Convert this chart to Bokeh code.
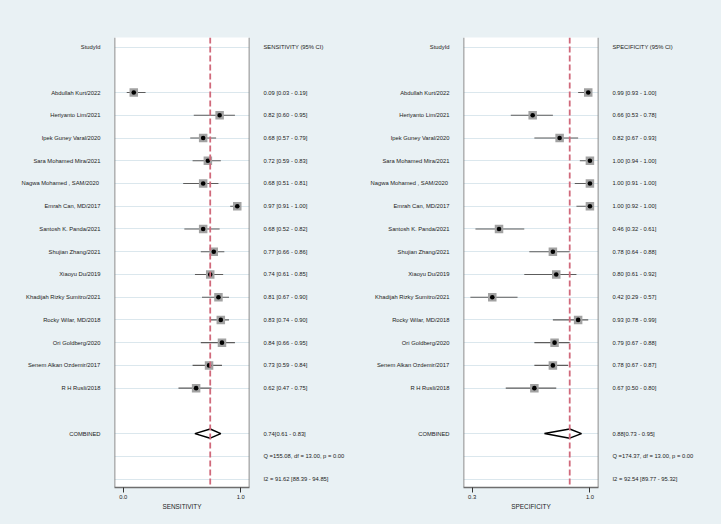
from bokeh.plotting import figure
from bokeh.layouts import row
from bokeh.models import (ColumnDataSource, Span, Range1d,
                          FixedTicker, Grid, NumeralTickFormatter)
from bokeh.core.properties import value
from bokeh.embed import file_html
from bokeh.resources import INLINE

# ---------------- data ----------------
studies = ["Abdullah Kurt/2022", "Heriyanto Lim/2021", "Ipek Guney Varal/2020",
           "Sara Mohamed Mira/2021", "Nagwa Mohamed ,  SAM/2020", "Emrah Can, MD/2017",
           "Santosh K. Panda/2021", "Shujian Zhang/2021", "Xiaoyu Du/2019",
           "Khadijah Rizky Sumitro/2021", "Rocky Wilar, MD/2018", "Ori Goldberg/2020",
           "Senem Alkan Ozdemir/2017", "R H Rusli/2018"]

sens = [0.09, 0.82, 0.68, 0.72, 0.68, 0.97, 0.68, 0.77, 0.74, 0.81, 0.83, 0.84, 0.73, 0.62]
sens_lo = [0.03, 0.60, 0.57, 0.59, 0.51, 0.91, 0.52, 0.66, 0.61, 0.67, 0.74, 0.66, 0.59, 0.47]
sens_hi = [0.19, 0.95, 0.79, 0.83, 0.81, 1.00, 0.82, 0.86, 0.85, 0.90, 0.90, 0.95, 0.84, 0.75]
sens_combined = [0.74, 0.61, 0.83]
sens_q = "Q =155.08, df = 13.00, p =  0.00"
sens_i2 = "I2 = 91.62 [88.39 - 94.85]"

spec = [0.99, 0.66, 0.82, 1.00, 1.00, 1.00, 0.46, 0.78, 0.80, 0.42, 0.93, 0.79, 0.78, 0.67]
spec_lo = [0.93, 0.53, 0.67, 0.94, 0.91, 0.92, 0.32, 0.64, 0.61, 0.29, 0.78, 0.67, 0.67, 0.50]
spec_hi = [1.00, 0.78, 0.93, 1.00, 1.00, 1.00, 0.61, 0.88, 0.92, 0.57, 0.99, 0.88, 0.87, 0.80]
spec_combined = [0.88, 0.73, 0.95]
spec_q = "Q =174.37, df = 13.00, p =  0.00"
spec_i2 = "I2 = 92.54 [89.77 - 95.32]"

sens_ticks = [0.0, 1.0]
spec_ticks = [0.3, 1.0]

# ---------------- style ----------------
BG = "#e9f1f4"
FONT = "Liberation Sans"
TXT = "#222222"
FS = "5.8px"
H = 520
TOP, BOT = 37, 33
PAD = 2


def text_fig(width, y_range, rows, texts, align):
    p = figure(width=width, height=H, output_backend="svg", toolbar_location=None,
               x_range=Range1d(0, 1), y_range=y_range,
               x_axis_location=None, y_axis_location=None,
               min_border_left=0, min_border_right=0,
               min_border_top=TOP, min_border_bottom=BOT,
               background_fill_color=BG, border_fill_color=BG, outline_line_color=None)
    p.grid.visible = False
    src = ColumnDataSource(dict(y=rows, t=texts, x=[1 if align == "right" else 0] * len(rows)))
    p.text(x="x", y="y", text="t", source=src,
           x_offset=-(14 - PAD) if align == "right" else (14 - PAD),
           text_align=align, text_baseline="middle",
           text_font=value(FONT), text_font_size=value(FS), text_color=TXT)
    return p


def make_panel(vals, lo, hi, comb, q, i2, header, axis_label, xr, ticks,
               left_w, right_w):
    n = len(vals)
    rows = list(range(1, n + 1))
    comb_row = n + 2
    q_row, i2_row = n + 3, n + 4
    head_row = -1
    yr = Range1d(i2_row + 0.37, head_row - 0.42)

    p = figure(width=135 + 2 * PAD, height=H, output_backend="svg", toolbar_location=None,
               x_range=xr, y_range=yr, y_axis_location=None,
               min_border_left=PAD, min_border_right=PAD,
               min_border_top=TOP, min_border_bottom=BOT,
               background_fill_color="white", border_fill_color=BG,
               outline_line_color=None)
    p.grid.visible = False
    p.add_layout(Grid(dimension=1,
                      ticker=FixedTicker(ticks=[head_row] + rows + [comb_row, q_row, i2_row]),
                      grid_line_color="#dbe7ed", grid_line_width=1))

    for loc in (xr.start, xr.end):
        p.add_layout(Span(location=loc, dimension="height", line_color="#6e6e6e", line_width=1.6))

    src = ColumnDataSource(dict(y=rows, v=vals, lo=lo, hi=hi))
    p.segment(x0="lo", y0="y", x1="hi", y1="y", source=src, line_color="#5c5c5c", line_width=1.1)
    p.scatter(x="v", y="y", source=src, marker="square", size=8.5, fill_color="#a2a2a2", line_color=None)
    p.scatter(x="v", y="y", source=src, marker="circle", size=4.6, fill_color="black", line_color=None)

    est, clo, chi = comb
    p.patches(xs=[[clo, est, chi, est]],
              ys=[[comb_row, comb_row - 0.2, comb_row, comb_row + 0.2]],
              fill_color="white", line_color="black", line_width=1.5)
    p.add_layout(Span(location=est, dimension="height", line_color="#d0697b",
                      line_width=1.8, line_dash="6 3"))

    ax = p.xaxis[0]
    ax.ticker = FixedTicker(ticks=ticks)
    ax.formatter = NumeralTickFormatter(format="0.0")
    ax.axis_label = axis_label
    ax.axis_line_color = "#6e6e6e"
    ax.axis_line_width = 1.6
    ax.major_tick_line_color = "#333333"
    ax.major_tick_in = 0
    ax.major_tick_out = 5
    ax.minor_tick_line_color = None
    ax.major_label_standoff = 2
    ax.major_label_text_font = FONT
    ax.major_label_text_font_size = FS
    ax.major_label_text_color = TXT
    ax.axis_label_standoff = 1
    ax.axis_label_text_font = FONT
    ax.axis_label_text_font_size = "6.4px"
    ax.axis_label_text_font_style = "normal"
    ax.axis_label_text_color = TXT

    left = text_fig(left_w - PAD, yr, [head_row] + rows + [comb_row],
                    ["StudyId"] + studies + ["COMBINED"], "right")
    ci = [f"{a:.2f} [{b:.2f} - {c:.2f}]" for a, b, c in zip(vals, lo, hi)]
    right = text_fig(right_w - PAD, yr, [head_row] + rows + [comb_row, q_row, i2_row],
                     [header] + ci + [f"{est:.2f}[{clo:.2f} - {chi:.2f}]", q, i2], "left")
    return [left, p, right]


panel1 = make_panel(sens, sens_lo, sens_hi, sens_combined, sens_q, sens_i2,
                    "SENSITIVITY (95% CI)", "SENSITIVITY", Range1d(-0.074, 1.074),
                    sens_ticks, 114, 114)
panel2 = make_panel(spec, spec_lo, spec_hi, spec_combined, spec_q, spec_i2,
                    "SPECIFICITY (95% CI)", "SPECIFICITY", Range1d(0.249, 1.051),
                    spec_ticks, 100, 116)

layout = row(*panel1, *panel2)
html = file_html(layout, INLINE)
html = html.replace("<body>", '<body style="background:%s;">' % BG)
open("out.html", "w").write(html)
